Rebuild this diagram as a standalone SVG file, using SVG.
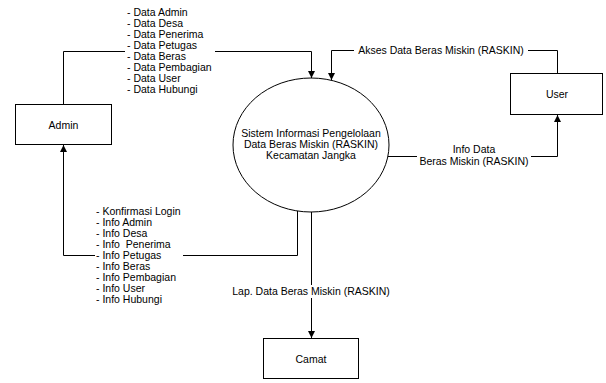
<svg xmlns="http://www.w3.org/2000/svg" width="606" height="383" viewBox="0 0 606 383">
<style>
text{font-family:"Liberation Sans",Arial,sans-serif;font-size:10.5px;fill:#000}
.c{text-anchor:middle}
.box{fill:#fff;stroke:#000;stroke-width:1}
.ln{fill:none;stroke:#000;stroke-width:1}
</style>
<defs>
<marker id="ah" viewBox="0 0 8 8" refX="8" refY="4" markerWidth="7" markerHeight="7" markerUnits="userSpaceOnUse" orient="auto">
<path d="M0,0 L8,4 L0,8 Z" fill="#000"/>
</marker>
</defs>
<rect width="606" height="383" fill="#fff"/>
<g id="connectors">
<path class="ln" d="M63.5,104 V51.5 H311.5 V78" marker-end="url(#ah)"/>
<path class="ln" d="M557.5,73 V50.5 H331.5 V80" marker-end="url(#ah)"/>
<path class="ln" d="M388,156.5 H557.5 V115" marker-end="url(#ah)"/>
<path class="ln" d="M297.5,211 V255.5 H63.5 V145" marker-end="url(#ah)"/>
<path class="ln" d="M311.5,212 V338" marker-end="url(#ah)"/>
<rect x="125" y="2" width="90" height="92" fill="#fff"/>
<g>
<text x="127" y="16">- Data Admin</text>
<text x="127" y="27">- Data Desa</text>
<text x="127" y="38">- Data Penerima</text>
<text x="127" y="49">- Data Petugas</text>
<text x="127" y="60">- Data Beras</text>
<text x="127" y="71">- Data Pembagian</text>
<text x="127" y="82">- Data User</text>
<text x="127" y="93">- Data Hubungi</text>
</g>
<rect x="354" y="44" width="174" height="12" fill="#fff"/>
<text class="c" x="441" y="54">Akses Data Beras Miskin (RASKIN)</text>
<rect x="417" y="146" width="114" height="22" fill="#fff"/>
<text class="c" x="474" y="153">Info Data</text>
<text class="c" x="474" y="165">Beras Miskin (RASKIN)</text>
<rect x="95" y="202" width="88" height="102" fill="#fff"/>
<g>
<text x="96" y="215">- Konfirmasi Login</text>
<text x="96" y="226">- Info Admin</text>
<text x="96" y="237">- Info Desa</text>
<text x="96" y="248" xml:space="preserve" style="white-space:pre">- Info  Penerima</text>
<text x="96" y="259">- Info Petugas</text>
<text x="96" y="270">- Info Beras</text>
<text x="96" y="281">- Info Pembagian</text>
<text x="96" y="292">- Info User</text>
<text x="96" y="303">- Info Hubungi</text>
</g>
<rect x="229" y="285" width="164" height="13" fill="#fff"/>
<text class="c" x="311" y="295">Lap. Data Beras Miskin (RASKIN)</text>
</g>
<g id="process">
<ellipse class="box" cx="311" cy="145" rx="78" ry="67"/>
<text class="c" x="311" y="137">Sistem Informasi Pengelolaan</text>
<text class="c" x="311" y="148">Data Beras Miskin (RASKIN)</text>
<text class="c" x="311" y="159">Kecamatan Jangka</text>
</g>
<g id="admin">
<rect class="box" x="15.5" y="104.5" width="96" height="40"/>
<text class="c" x="63.5" y="129">Admin</text>
</g>
<g id="user">
<rect class="box" x="510.5" y="73.5" width="92" height="41"/>
<text class="c" x="557" y="98">User</text>
</g>
<g id="camat">
<rect class="box" x="263.5" y="338.5" width="95" height="40"/>
<text class="c" x="311" y="363">Camat</text>
</g>
</svg>
